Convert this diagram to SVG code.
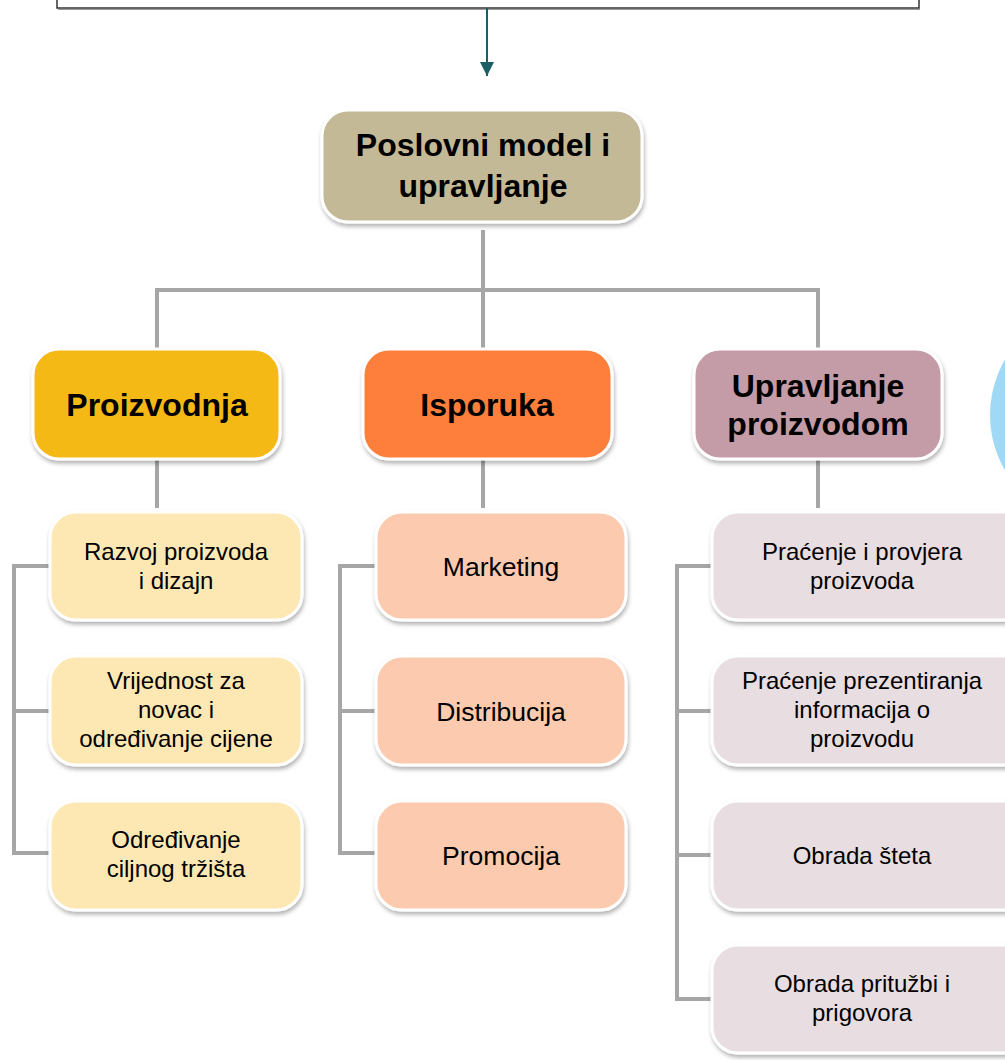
<svg xmlns="http://www.w3.org/2000/svg" width="1005" height="1060" viewBox="0 0 1005 1060">
<defs>
<filter id="sh" x="-10%" y="-10%" width="125%" height="135%">
<feDropShadow dx="1" dy="3" stdDeviation="2" flood-color="#000" flood-opacity="0.3"/>
</filter>
<marker id="arr" viewBox="0 0 10 10" refX="10" refY="5" markerWidth="15" markerHeight="14" markerUnits="userSpaceOnUse" orient="auto">
<path d="M0,0 L10,5 L0,10 z" fill="#1b5e66"/>
</marker>
</defs>
<style>
.box{stroke:#fff;stroke-width:3;filter:url(#sh)}
.t1{font-family:"Liberation Sans",Arial,sans-serif;font-weight:bold;font-size:32px;fill:#000;text-anchor:middle}
.t2{font-family:"Liberation Sans",Arial,sans-serif;font-size:24px;fill:#000;text-anchor:middle}
.t3{font-family:"Liberation Sans",Arial,sans-serif;font-size:26.5px;fill:#000;text-anchor:middle}
.c{stroke:#a6a6a6;stroke-width:4;fill:none}
.y{fill:#fde8b4}.o{fill:#fccbaf}.m{fill:#e8dde1}
</style>
<rect width="1005" height="1060" fill="#fff"/>
<ellipse cx="1100" cy="415" rx="110" ry="110" fill="#9fd9f5"/>
<g id="top-box">
<rect x="57" y="-20" width="862" height="28" fill="#fff" stroke="#333" stroke-width="1.5"/>
<line x1="58" y1="9.5" x2="920" y2="9.5" stroke="#999" stroke-width="1"/>
</g>
<g id="connectors">
<line x1="487" y1="8" x2="487" y2="76" stroke="#1b5e66" stroke-width="2" marker-end="url(#arr)"/>
<path class="c" d="M483,230 V290 M157,290 H820 M157,288 V350 M483,290 V350 M818,288 V350"/>
<path class="c" d="M157,460 V508 M483,460 V508 M818,460 V508"/>
<path class="c" d="M50,566 H14 V853 H50 M14,711 H50"/>
<path class="c" d="M376,566 H340 V853 H376 M340,711 H376"/>
<path class="c" d="M712,566 H677 V999 H712 M677,711 H712 M677,855 H712"/>
</g>
<g id="root">
<rect class="box" x="322" y="110" width="320" height="112" rx="26" fill="#c4b997"/>
<text class="t1" x="483" y="156">Poslovni model i</text>
<text class="t1" x="483" y="197">upravljanje</text>
</g>
<g id="proizvodnja">
<rect class="box" x="33" y="349" width="247" height="110" rx="26" fill="#f5b918"/>
<text class="t1" x="157" y="416">Proizvodnja</text>
</g>
<g id="isporuka">
<rect class="box" x="363" y="349" width="249" height="110" rx="26" fill="#fe7e3a"/>
<text class="t1" x="487" y="416">Isporuka</text>
</g>
<g id="upravljanje-proizvodom">
<rect class="box" x="694" y="349" width="248" height="110" rx="26" fill="#c49ca7"/>
<text class="t1" x="818" y="397">Upravljanje</text>
<text class="t1" x="818" y="435">proizvodom</text>
</g>
<g id="razvoj">
<rect class="box y" x="50" y="512" width="252" height="108" rx="26"/>
<text class="t2" x="176" y="560">Razvoj proizvoda</text>
<text class="t2" x="176" y="589">i dizajn</text>
</g>
<g id="vrijednost">
<rect class="box y" x="50" y="656" width="252" height="109" rx="26"/>
<text class="t2" x="176" y="689">Vrijednost za</text>
<text class="t2" x="176" y="718">novac i</text>
<text class="t2" x="176" y="747">određivanje cijene</text>
</g>
<g id="odredivanje">
<rect class="box y" x="50" y="801" width="252" height="109" rx="26"/>
<text class="t2" x="176" y="848">Određivanje</text>
<text class="t2" x="176" y="877">ciljnog tržišta</text>
</g>
<g id="marketing">
<rect class="box o" x="376" y="512" width="250" height="108" rx="26"/>
<text class="t3" x="501" y="576">Marketing</text>
</g>
<g id="distribucija">
<rect class="box o" x="376" y="656" width="250" height="109" rx="26"/>
<text class="t3" x="501" y="721">Distribucija</text>
</g>
<g id="promocija">
<rect class="box o" x="376" y="801" width="250" height="109" rx="26"/>
<text class="t3" x="501" y="865">Promocija</text>
</g>
<g id="pracenje-provjera">
<rect class="box m" x="712" y="512" width="320" height="108" rx="26"/>
<text class="t2" x="862" y="560">Praćenje i provjera</text>
<text class="t2" x="862" y="589">proizvoda</text>
</g>
<g id="pracenje-prezentiranja">
<rect class="box m" x="712" y="656" width="320" height="109" rx="26"/>
<text class="t2" x="862" y="689">Praćenje prezentiranja</text>
<text class="t2" x="862" y="718">informacija o</text>
<text class="t2" x="862" y="747">proizvodu</text>
</g>
<g id="obrada-steta">
<rect class="box m" x="712" y="801" width="320" height="109" rx="26"/>
<text class="t2" x="862" y="864">Obrada šteta</text>
</g>
<g id="obrada-prituzbi">
<rect class="box m" x="712" y="945" width="320" height="108" rx="26"/>
<text class="t2" x="862" y="992">Obrada pritužbi i</text>
<text class="t2" x="862" y="1021">prigovora</text>
</g>
</svg>
